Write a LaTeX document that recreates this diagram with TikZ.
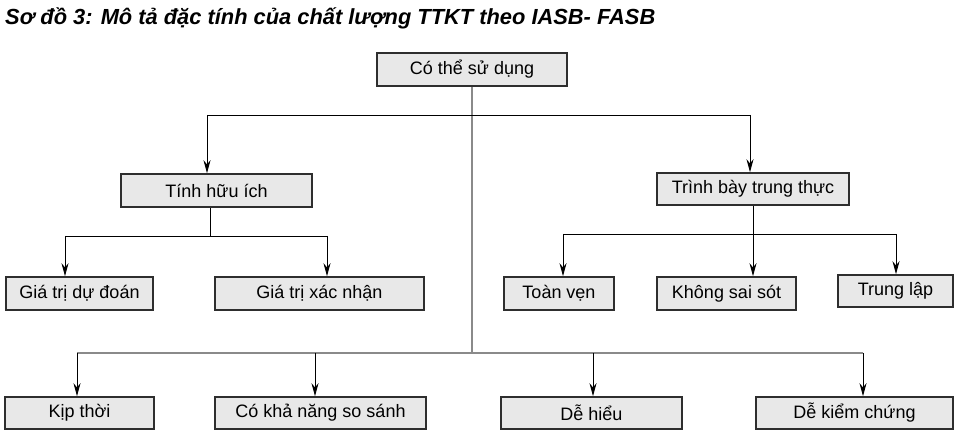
\documentclass[tikz,border=0pt]{standalone}
\usepackage{fontspec}
\usepackage{graphicx}
\setmainfont{Liberation Sans}
\usetikzlibrary{arrows.meta}
\definecolor{boxfill}{HTML}{E8E8E8}
\definecolor{boxline}{HTML}{2E2E2E}
\definecolor{trunk}{HTML}{8A8A8A}
\tikzset{
  box/.style={draw=boxline, line width=1.6pt, fill=boxfill, inner sep=0pt,
    minimum height=33pt, font=\fontsize{18}{20}\selectfont},
  conn/.style={line width=0.9pt, black},
  arr/.style={conn, -{Stealth[length=13pt,width=7pt]}},
  trunkline/.style={line width=1.4pt, trunk}
}
\begin{document}
\begin{tikzpicture}[x=1pt,y=-1pt]
\useasboundingbox (0,0) rectangle (959,438);
\node[anchor=base west, inner sep=0pt] (title) at (5,25)
  {\resizebox{650pt}{!}{\bfseries\itshape Sơ đồ 3: Mô tả đặc tính của chất lượng TTKT theo IASB- FASB}};

\node[box, minimum width=190pt] (top) at (472,69.5) {Có thể sử dụng};
\node[box, minimum width=191pt] (huu) at (216.5,190.5) {Tính hữu ích};
\node[box, minimum width=192pt, minimum height=32pt] (trinh) at (753,189) {Trình bày trung thực};
\node[box, minimum width=147pt] (dudoan) at (79.5,293.5) {Giá trị dự đoán};
\node[box, minimum width=209pt] (xacnhan) at (319.5,293.5) {Giá trị xác nhận};
\node[box, minimum width=110pt] (toanven) at (559,293.5) {Toàn vẹn};
\node[box, minimum width=139pt] (khongsai) at (726.5,293.5) {Không sai sót};
\node[box, minimum width=115pt, minimum height=32pt] (trunglap) at (895.5,291) {Trung lập};
\node[box, minimum width=149pt, minimum height=32pt] (kipthoi) at (79.5,413) {Kịp thời};
\node[box, minimum width=211pt, minimum height=32pt] (cokha) at (320.5,413) {Có khả năng so sánh};
\node[box, minimum width=181pt, minimum height=32pt] (dehieu) at (591.5,413) {Dễ hiểu};
\node[box, minimum width=197pt, minimum height=32pt] (dekiem) at (854.5,413) {Dễ kiểm chứng};

% top level
\coordinate (tL) at (207,115);
\coordinate (tR) at (750,115);
\coordinate (tB) at (472,353);
\draw[trunkline] (top.south) -- (tB);
\draw[conn] (tL) -- (tR);
\draw[arr] (tL) -- (tL |- huu.north);
\draw[arr] (tR) -- (tR |- trinh.north);

% Tinh huu ich
\coordinate (hS) at (210,236);
\coordinate (hL) at (65,236);
\coordinate (hR) at (327,236);
\draw[conn] (hS |- huu.south) -- (hS);
\draw[conn] (hL) -- (hR);
\draw[arr] (hL) -- (hL |- dudoan.north);
\draw[arr] (hR) -- (hR |- xacnhan.north);

% Trinh bay trung thuc
\coordinate (rS) at (753,234);
\coordinate (rL) at (563,234);
\coordinate (rR) at (896,234);
\draw[conn] (rS |- trinh.south) -- (rS);
\draw[conn] (rL) -- (rR);
\draw[arr] (rL) -- (rL |- toanven.north);
\draw[arr] (rS) -- (rS |- khongsai.north);
\draw[arr] (rR) -- (rR |- trunglap.north);

% bottom bus
\coordinate (b1) at (77,353);
\coordinate (b2) at (315,353);
\coordinate (b3) at (593,353);
\coordinate (b4) at (863,353);
\draw[trunkline] (b1) -- (b4);
\draw[arr] (b1) -- (b1 |- kipthoi.north);
\draw[arr] (b2) -- (b2 |- cokha.north);
\draw[arr] (b3) -- (b3 |- dehieu.north);
\draw[arr] (b4) -- (b4 |- dekiem.north);
\end{tikzpicture}
\end{document}
